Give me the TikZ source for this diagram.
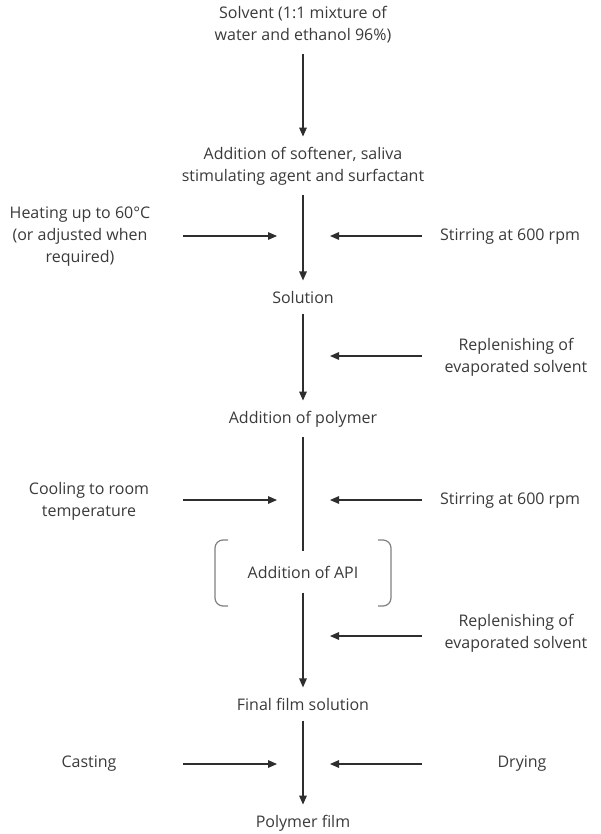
\documentclass[tikz,border=0pt]{standalone}
\usepackage{fontspec}
\setmainfont{Open Sans}
\usetikzlibrary{arrows.meta}
\definecolor{txtgray}{HTML}{3A3A3A}
\definecolor{lngray}{HTML}{2E2E2E}
\definecolor{brgray}{HTML}{808080}
\begin{document}
\begin{tikzpicture}[x=0.5pt,y=-0.5pt,
  lbl/.style={font=\fontsize{8}{11}\selectfont, text=txtgray, align=center, inner xsep=0pt, inner ysep=0pt},
  mainlbl/.style={lbl, inner ysep=5pt},
  arr/.style={draw=lngray, line width=0.6pt, -{Triangle[length=4.5pt,width=3.8pt]}},
  plain/.style={draw=lngray, line width=0.6pt},
  brk/.style={draw=brgray, line width=0.6pt, rounded corners=4pt}]
\useasboundingbox (0,0) rectangle (600,834);
% main column
\node[mainlbl] (s1) at (303,25) {Solvent (1:1 mixture of\\water and ethanol 96\%)};
\node[mainlbl] (s2) at (303,166) {Addition of softener, saliva\\stimulating agent and surfactant};
\node[mainlbl] (s3) at (303,297) {Solution};
\node[mainlbl] (s4) at (303,419) {Addition of polymer};
\node[lbl, inner ysep=7pt] (api) at (303,572) {Addition of API};
\node[mainlbl] (s5) at (303,704) {Final film solution};
\node[mainlbl] (s6) at (303,823) {Polymer film};
\draw[arr] (s1) -- (s2);
\draw[arr] (s2) -- (s3);
\draw[arr] (s3) -- (s4);
\draw[plain] (s4) -- (api);
\draw[arr] (api) -- (s5);
\draw[arr] (s5) -- (s6);
% bracket around API
\draw[brk] (228,540) -- (215,540) -- (215,606) -- (228,606);
\draw[brk] (378,540) -- (391,540) -- (391,606) -- (378,606);
% side inputs
\node[lbl] (heat) at (80,237) {Heating up to 60\textdegree C\\(or adjusted when\\required)};
\node[lbl] (stir1) at (510,237) {Stirring at 600 rpm};
\node[lbl] (rep1) at (516,357) {Replenishing of\\evaporated solvent};
\node[lbl] (cool) at (89,501) {Cooling to room\\temperature};
\node[lbl] (stir2) at (510,501) {Stirring at 600 rpm};
\node[lbl] (rep2) at (516,633) {Replenishing of\\evaporated solvent};
\node[lbl] (cast) at (89,764) {Casting};
\node[lbl] (dry) at (522,764) {Drying};
% arrow end points
\coordinate (h0) at (183,236); \coordinate (h1) at (277,236);
\coordinate (t0) at (422,236); \coordinate (t1) at (330,236);
\coordinate (r0) at (422,356); \coordinate (r1) at (330,356);
\coordinate (c0) at (183,500); \coordinate (c1) at (277,500);
\coordinate (u0) at (422,500); \coordinate (u1) at (330,500);
\coordinate (p0) at (422,636); \coordinate (p1) at (330,636);
\coordinate (k0) at (183,764); \coordinate (k1) at (277,764);
\coordinate (d0) at (422,764); \coordinate (d1) at (330,764);
\draw[arr] (h0) -- (h1);
\draw[arr] (t0) -- (t1);
\draw[arr] (r0) -- (r1);
\draw[arr] (c0) -- (c1);
\draw[arr] (u0) -- (u1);
\draw[arr] (p0) -- (p1);
\draw[arr] (k0) -- (k1);
\draw[arr] (d0) -- (d1);
\end{tikzpicture}
\end{document}
